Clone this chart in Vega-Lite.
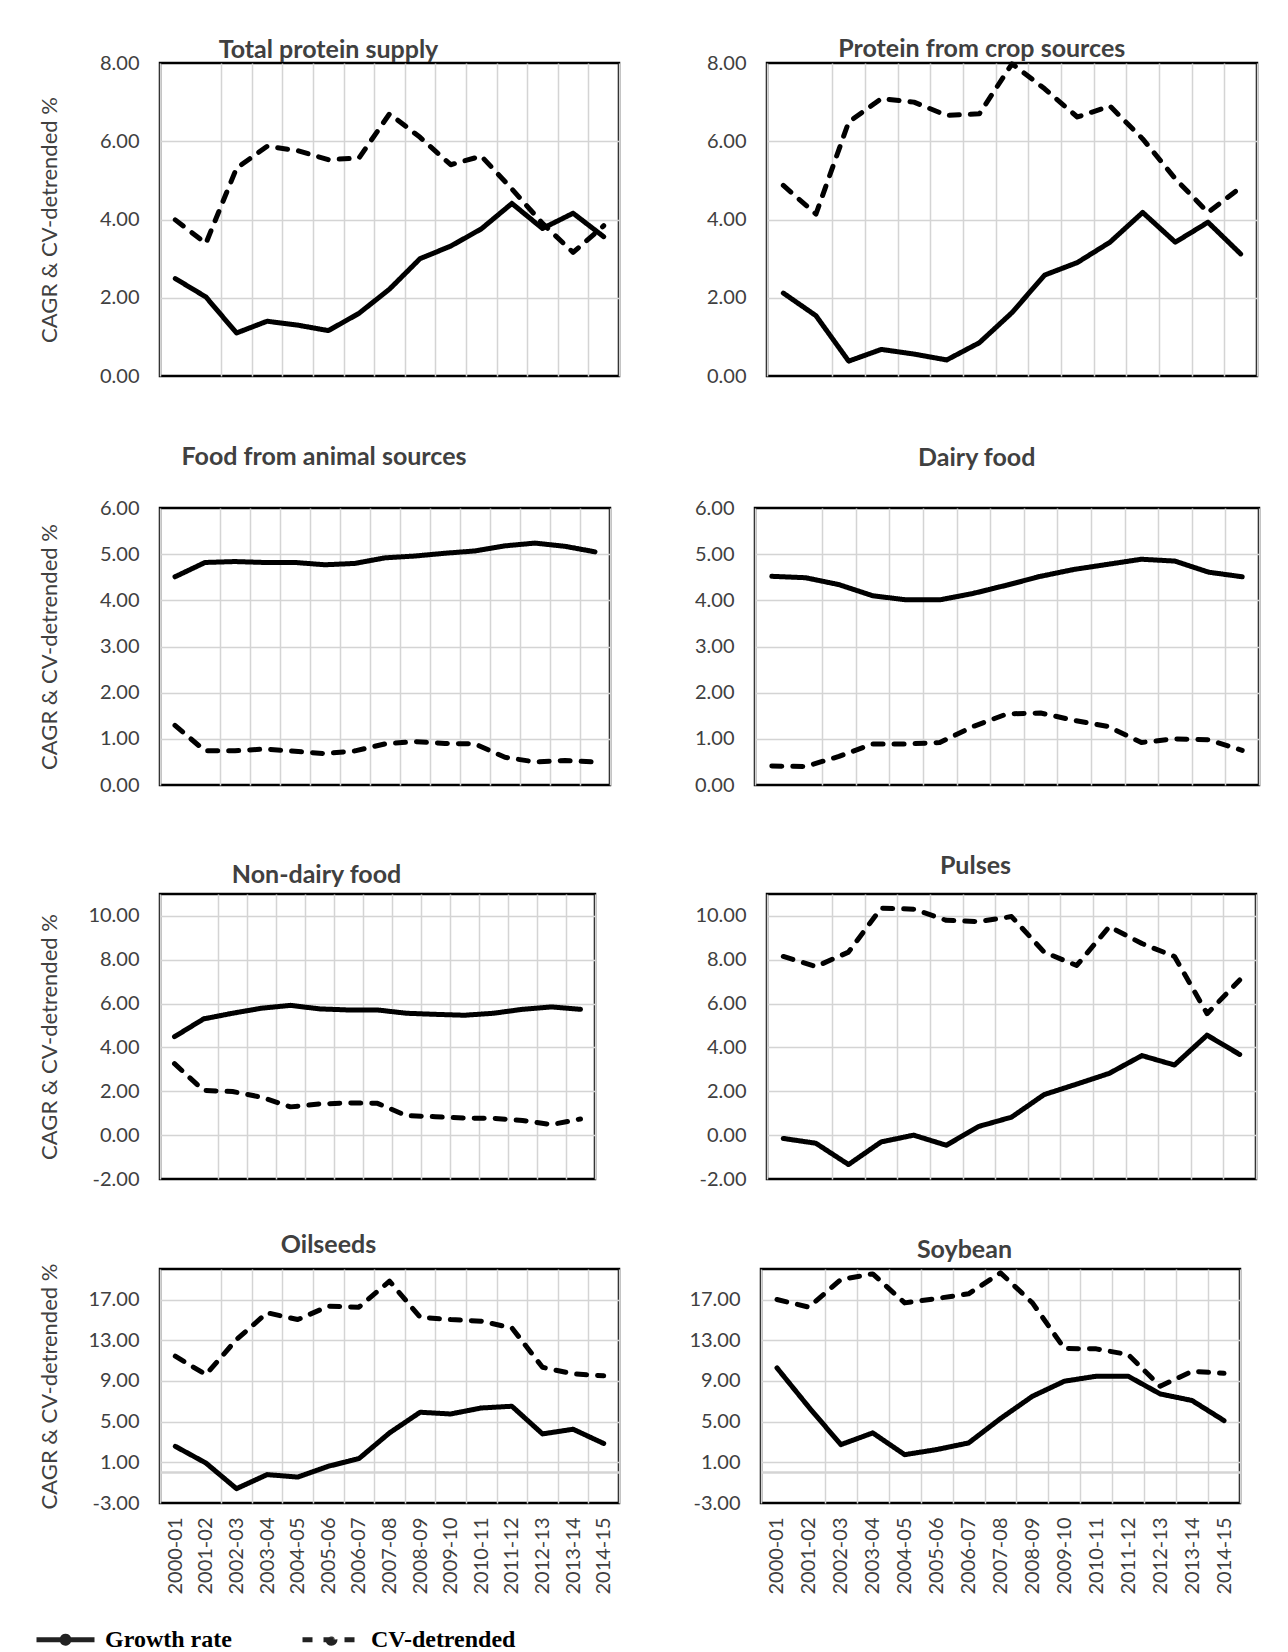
{
"$schema": "https://vega.github.io/schema/vega-lite/v6.json",
"background": "white",
"padding": {"left": 34, "top": 35, "right": 5, "bottom": 0},
"data": {"values": [
{"p":1,"t":"2000-01","g":2.49,"c":3.99},{"p":1,"t":"2001-02","g":2.02,"c":3.39},{"p":1,"t":"2002-03","g":1.10,"c":5.31},{"p":1,"t":"2003-04","g":1.40,"c":5.87},{"p":1,"t":"2004-05","g":1.30,"c":5.76},{"p":1,"t":"2005-06","g":1.16,"c":5.53},{"p":1,"t":"2006-07","g":1.60,"c":5.57},{"p":1,"t":"2007-08","g":2.22,"c":6.70},{"p":1,"t":"2008-09","g":3.00,"c":6.10},{"p":1,"t":"2009-10","g":3.32,"c":5.40},{"p":1,"t":"2010-11","g":3.76,"c":5.62},{"p":1,"t":"2011-12","g":4.41,"c":4.78},{"p":1,"t":"2012-13","g":3.77,"c":3.90},{"p":1,"t":"2013-14","g":4.16,"c":3.16},{"p":1,"t":"2014-15","g":3.56,"c":3.84},
{"p":2,"t":"2000-01","g":2.12,"c":4.87},{"p":2,"t":"2001-02","g":1.54,"c":4.14},{"p":2,"t":"2002-03","g":0.38,"c":6.49},{"p":2,"t":"2003-04","g":0.68,"c":7.09},{"p":2,"t":"2004-05","g":0.56,"c":7.00},{"p":2,"t":"2005-06","g":0.41,"c":6.66},{"p":2,"t":"2006-07","g":0.85,"c":6.70},{"p":2,"t":"2007-08","g":1.62,"c":7.98},{"p":2,"t":"2008-09","g":2.58,"c":7.34},{"p":2,"t":"2009-10","g":2.90,"c":6.62},{"p":2,"t":"2010-11","g":3.42,"c":6.90},{"p":2,"t":"2011-12","g":4.18,"c":6.06},{"p":2,"t":"2012-13","g":3.42,"c":5.04},{"p":2,"t":"2013-14","g":3.93,"c":4.18},{"p":2,"t":"2014-15","g":3.12,"c":4.82},
{"p":3,"t":"2000-01","g":4.51,"c":1.29},{"p":3,"t":"2001-02","g":4.82,"c":0.74},{"p":3,"t":"2002-03","g":4.84,"c":0.74},{"p":3,"t":"2003-04","g":4.82,"c":0.78},{"p":3,"t":"2004-05","g":4.82,"c":0.73},{"p":3,"t":"2005-06","g":4.77,"c":0.68},{"p":3,"t":"2006-07","g":4.80,"c":0.74},{"p":3,"t":"2007-08","g":4.92,"c":0.89},{"p":3,"t":"2008-09","g":4.96,"c":0.94},{"p":3,"t":"2009-10","g":5.02,"c":0.90},{"p":3,"t":"2010-11","g":5.07,"c":0.89},{"p":3,"t":"2011-12","g":5.18,"c":0.60},{"p":3,"t":"2012-13","g":5.24,"c":0.50},{"p":3,"t":"2013-14","g":5.17,"c":0.53},{"p":3,"t":"2014-15","g":5.05,"c":0.50},
{"p":4,"t":"2000-01","g":4.52,"c":0.41},{"p":4,"t":"2001-02","g":4.49,"c":0.40},{"p":4,"t":"2002-03","g":4.34,"c":0.62},{"p":4,"t":"2003-04","g":4.10,"c":0.89},{"p":4,"t":"2004-05","g":4.01,"c":0.89},{"p":4,"t":"2005-06","g":4.01,"c":0.92},{"p":4,"t":"2006-07","g":4.15,"c":1.27},{"p":4,"t":"2007-08","g":4.33,"c":1.54},{"p":4,"t":"2008-09","g":4.52,"c":1.56},{"p":4,"t":"2009-10","g":4.67,"c":1.40},{"p":4,"t":"2010-11","g":4.78,"c":1.27},{"p":4,"t":"2011-12","g":4.89,"c":0.92},{"p":4,"t":"2012-13","g":4.85,"c":1.00},{"p":4,"t":"2013-14","g":4.61,"c":0.98},{"p":4,"t":"2014-15","g":4.51,"c":0.75},
{"p":5,"t":"2000-01","g":4.49,"c":3.26},{"p":5,"t":"2001-02","g":5.30,"c":2.04},{"p":5,"t":"2002-03","g":5.56,"c":1.99},{"p":5,"t":"2003-04","g":5.79,"c":1.73},{"p":5,"t":"2004-05","g":5.92,"c":1.29},{"p":5,"t":"2005-06","g":5.76,"c":1.42},{"p":5,"t":"2006-07","g":5.71,"c":1.47},{"p":5,"t":"2007-08","g":5.71,"c":1.45},{"p":5,"t":"2008-09","g":5.56,"c":0.89},{"p":5,"t":"2009-10","g":5.51,"c":0.84},{"p":5,"t":"2010-11","g":5.47,"c":0.78},{"p":5,"t":"2011-12","g":5.56,"c":0.77},{"p":5,"t":"2012-13","g":5.74,"c":0.67},{"p":5,"t":"2013-14","g":5.85,"c":0.48},{"p":5,"t":"2014-15","g":5.74,"c":0.74},
{"p":6,"t":"2000-01","g":-0.15,"c":8.15},{"p":6,"t":"2001-02","g":-0.37,"c":7.69},{"p":6,"t":"2002-03","g":-1.34,"c":8.35},{"p":6,"t":"2003-04","g":-0.31,"c":10.35},{"p":6,"t":"2004-05","g":0.00,"c":10.31},{"p":6,"t":"2005-06","g":-0.46,"c":9.80},{"p":6,"t":"2006-07","g":0.40,"c":9.74},{"p":6,"t":"2007-08","g":0.82,"c":9.97},{"p":6,"t":"2008-09","g":1.85,"c":8.35},{"p":6,"t":"2009-10","g":2.33,"c":7.74},{"p":6,"t":"2010-11","g":2.82,"c":9.51},{"p":6,"t":"2011-12","g":3.63,"c":8.74},{"p":6,"t":"2012-13","g":3.20,"c":8.15},{"p":6,"t":"2013-14","g":4.56,"c":5.54},{"p":6,"t":"2014-15","g":3.68,"c":7.08},
{"p":7,"t":"2000-01","g":2.57,"c":11.43},{"p":7,"t":"2001-02","g":0.93,"c":9.62},{"p":7,"t":"2002-03","g":-1.59,"c":13.07},{"p":7,"t":"2003-04","g":-0.21,"c":15.70},{"p":7,"t":"2004-05","g":-0.45,"c":15.03},{"p":7,"t":"2005-06","g":0.61,"c":16.34},{"p":7,"t":"2006-07","g":1.36,"c":16.25},{"p":7,"t":"2007-08","g":3.89,"c":18.80},{"p":7,"t":"2008-09","g":5.92,"c":15.26},{"p":7,"t":"2009-10","g":5.75,"c":15.03},{"p":7,"t":"2010-11","g":6.34,"c":14.87},{"p":7,"t":"2011-12","g":6.51,"c":14.21},{"p":7,"t":"2012-13","g":3.79,"c":10.34},{"p":7,"t":"2013-14","g":4.25,"c":9.69},{"p":7,"t":"2014-15","g":2.85,"c":9.50},
{"p":8,"t":"2000-01","g":10.28,"c":17.00},{"p":8,"t":"2001-02","g":6.41,"c":16.25},{"p":8,"t":"2002-03","g":2.74,"c":18.97},{"p":8,"t":"2003-04","g":3.89,"c":19.52},{"p":8,"t":"2004-05","g":1.75,"c":16.67},{"p":8,"t":"2005-06","g":2.25,"c":17.10},{"p":8,"t":"2006-07","g":2.90,"c":17.56},{"p":8,"t":"2007-08","g":5.30,"c":19.62},{"p":8,"t":"2008-09","g":7.49,"c":16.67},{"p":8,"t":"2009-10","g":8.97,"c":12.18},{"p":8,"t":"2010-11","g":9.46,"c":12.15},{"p":8,"t":"2011-12","g":9.46,"c":11.59},{"p":8,"t":"2012-13","g":7.72,"c":8.48},{"p":8,"t":"2013-14","g":7.07,"c":9.95},{"p":8,"t":"2014-15","g":5.10,"c":9.75}
]},
"config": {
  "font": "Lato",
  "view": {"stroke": "black", "strokeWidth": 2.5},
  "axis": {"grid": true, "gridColor": "#d4d4d4", "gridWidth": 1.5, "ticks": false, "tickSize": 0, "domain": false, "labelFont": "Lato", "labelFontSize": 20, "labelColor": "#404040", "titleFont": "Lato", "titleFontSize": 22, "titleFontWeight": "normal", "titleColor": "#404040", "labelPadding": 21, "labelOverlap": false},
  "axisY": {"labelExpr": "(datum.value < 0 ? '-' : '') + format(abs(datum.value), '.2f')"},
  "title": {"font": "Lato", "fontSize": 25, "fontWeight": "bold", "color": "#404040", "anchor": "middle", "frame": "bounds", "baseline": "alphabetic"},
  "line": {"strokeWidth": 5, "color": "black", "strokeJoin": "round", "strokeCap": "round"}
},
"spacing": 40,
"vconcat": [
 {"spacing": 55, "vconcat": [
  {"hconcat": [
   {"width": 459, "height": 313, "title": {"text": "Total protein supply", "offset": -10},
    "transform": [{"filter": "datum.p == 1"}, {"fold": ["g", "c"], "as": ["series", "value"]}],
    "mark": "line",
    "encoding": {
     "x": {"field": "t", "type": "ordinal", "scale": {"type": "band", "paddingInner": 0, "paddingOuter": 0}, "axis": {"labels": false, "title": null, "tickBand": "extent", "gridOpacity": {"condition": {"test": "datum.value === '2000-01'", "value": 0}, "value": 1}}},
     "y": {"field": "value", "type": "quantitative", "scale": {"domain": [0, 8], "nice": false, "zero": false}, "axis": {"values": [0, 2, 4, 6, 8], "title": "CAGR & CV-detrended %", "titlePadding": 37, "minExtent": 62, "maxExtent": 62, "gridOpacity": {"condition": {"test": "datum.value === 0 || datum.value === 8", "value": 0}, "value": 1}}},
     "strokeDash": {"field": "series", "type": "nominal", "scale": {"domain": ["g", "c"], "range": [[1, 0], [10, 11]]},
      "legend": {"title": null, "orient": "none", "legendX": -126, "legendY": 1545, "direction": "horizontal", "padding": 0,
       "symbolType": "M-1,0H1M0.12,0A0.12,0.12,0,1,1,-0.12,0A0.12,0.12,0,1,1,0.12,0", "symbolSize": 3364, "symbolStrokeWidth": 5, "symbolStrokeColor": "#222222", "symbolFillColor": "#707070",
       "labelFont": "Liberation Serif", "labelFontWeight": "bold", "labelFontSize": 24, "labelColor": "black", "labelOffset": 8, "columnPadding": 68,
       "labelExpr": "datum.label === 'g' ? 'Growth rate' : 'CV-detrended'",
       "encode": {"symbols": {"update": {
         "shape": {"signal": "datum.value === 'c' ? 'M-1,0H-0.42M0.42,0H1M0.12,0A0.12,0.12,0,1,1,-0.12,0A0.12,0.12,0,1,1,0.12,0' : 'M-1,0H1M0.12,0A0.12,0.12,0,1,1,-0.12,0A0.12,0.12,0,1,1,0.12,0'"},
         "strokeDash": {"value": [1, 0]},
         "fill": {"value": "#707070"}, "strokeCap": {"value": "round"}}}}}}
    }},
   {"width": 490, "height": 313, "title": {"text": "Protein from crop sources", "offset": -9},
    "transform": [{"filter": "datum.p == 2"}, {"fold": ["g", "c"], "as": ["series", "value"]}],
    "mark": "line",
    "encoding": {
     "x": {"field": "t", "type": "ordinal", "scale": {"type": "band", "paddingInner": 0, "paddingOuter": 0}, "axis": {"labels": false, "title": null, "tickBand": "extent", "gridOpacity": {"condition": {"test": "datum.value === '2000-01'", "value": 0}, "value": 1}}},
     "y": {"field": "value", "type": "quantitative", "scale": {"domain": [0, 8], "nice": false, "zero": false}, "axis": {"values": [0, 2, 4, 6, 8], "title": null, "gridOpacity": {"condition": {"test": "datum.value === 0 || datum.value === 8", "value": 0}, "value": 1}}},
     "strokeDash": {"field": "series", "type": "nominal", "scale": {"domain": ["g", "c"], "range": [[1, 0], [10, 11]]}}
    }}
  ], "spacing": 84},
  {"hconcat": [
   {"width": 450, "height": 277, "title": {"text": "Food from animal sources", "offset": 28},
    "transform": [{"filter": "datum.p == 3"}, {"fold": ["g", "c"], "as": ["series", "value"]}],
    "mark": "line",
    "encoding": {
     "x": {"field": "t", "type": "ordinal", "scale": {"type": "band", "paddingInner": 0, "paddingOuter": 0}, "axis": {"labels": false, "title": null, "tickBand": "extent", "gridOpacity": {"condition": {"test": "datum.value === '2000-01'", "value": 0}, "value": 1}}},
     "y": {"field": "value", "type": "quantitative", "scale": {"domain": [0, 6], "nice": false, "zero": false}, "axis": {"values": [0, 1, 2, 3, 4, 5, 6], "title": "CAGR & CV-detrended %", "titlePadding": 37, "minExtent": 62, "maxExtent": 62, "gridOpacity": {"condition": {"test": "datum.value === 0 || datum.value === 6", "value": 0}, "value": 1}}},
     "strokeDash": {"field": "series", "type": "nominal", "scale": {"domain": ["g", "c"], "range": [[1, 0], [10, 11]]}}
    }},
   {"width": 504, "height": 277, "title": {"text": "Dairy food", "offset": 27},
    "transform": [{"filter": "datum.p == 4"}, {"fold": ["g", "c"], "as": ["series", "value"]}],
    "mark": "line",
    "encoding": {
     "x": {"field": "t", "type": "ordinal", "scale": {"type": "band", "paddingInner": 0, "paddingOuter": 0}, "axis": {"labels": false, "title": null, "tickBand": "extent", "gridOpacity": {"condition": {"test": "datum.value === '2000-01'", "value": 0}, "value": 1}}},
     "y": {"field": "value", "type": "quantitative", "scale": {"domain": [0, 6], "nice": false, "zero": false}, "axis": {"values": [0, 1, 2, 3, 4, 5, 6], "title": null, "gridOpacity": {"condition": {"test": "datum.value === 0 || datum.value === 6", "value": 0}, "value": 1}}},
     "strokeDash": {"field": "series", "type": "nominal", "scale": {"domain": ["g", "c"], "range": [[1, 0], [10, 11]]}}
    }}
  ], "spacing": 81},
  {"hconcat": [
   {"width": 435, "height": 285, "title": {"text": "Non-dairy food", "offset": 6},
    "transform": [{"filter": "datum.p == 5"}, {"fold": ["g", "c"], "as": ["series", "value"]}],
    "mark": "line",
    "encoding": {
     "x": {"field": "t", "type": "ordinal", "scale": {"type": "band", "paddingInner": 0, "paddingOuter": 0}, "axis": {"labels": false, "title": null, "tickBand": "extent", "gridOpacity": {"condition": {"test": "datum.value === '2000-01'", "value": 0}, "value": 1}}},
     "y": {"field": "value", "type": "quantitative", "scale": {"domain": [-2, 11], "nice": false, "zero": false}, "axis": {"values": [-2, 0, 2, 4, 6, 8, 10], "title": "CAGR & CV-detrended %", "titlePadding": 37, "minExtent": 62, "maxExtent": 62, "gridOpacity": {"condition": {"test": "datum.value === -2", "value": 0}, "value": 1}}},
     "strokeDash": {"field": "series", "type": "nominal", "scale": {"domain": ["g", "c"], "range": [[1, 0], [10, 11]]}}
    }},
   {"width": 489, "height": 285, "title": {"text": "Pulses", "offset": 15},
    "transform": [{"filter": "datum.p == 6"}, {"fold": ["g", "c"], "as": ["series", "value"]}],
    "mark": "line",
    "encoding": {
     "x": {"field": "t", "type": "ordinal", "scale": {"type": "band", "paddingInner": 0, "paddingOuter": 0}, "axis": {"labels": false, "title": null, "tickBand": "extent", "gridOpacity": {"condition": {"test": "datum.value === '2000-01'", "value": 0}, "value": 1}}},
     "y": {"field": "value", "type": "quantitative", "scale": {"domain": [-2, 11], "nice": false, "zero": false}, "axis": {"values": [-2, 0, 2, 4, 6, 8, 10], "title": null, "gridOpacity": {"condition": {"test": "datum.value === -2", "value": 0}, "value": 1}}},
     "strokeDash": {"field": "series", "type": "nominal", "scale": {"domain": ["g", "c"], "range": [[1, 0], [10, 11]]}}
    }}
  ], "spacing": 96}
 ]},
 {"hconcat": [
   {"width": 459, "height": 234, "title": {"text": "Oilseeds", "offset": 5},
    "transform": [{"filter": "datum.p == 7"}, {"fold": ["g", "c"], "as": ["series", "value"]}],
    "mark": "line",
    "encoding": {
     "x": {"field": "t", "type": "ordinal", "scale": {"type": "band", "paddingInner": 0, "paddingOuter": 0}, "axis": {"title": null, "tickBand": "extent", "labelAngle": -90, "labelPadding": 14, "gridOpacity": {"condition": {"test": "datum.value === '2000-01'", "value": 0}, "value": 1}}},
     "y": {"field": "value", "type": "quantitative", "scale": {"domain": [-3, 20], "nice": false, "zero": false}, "axis": {"values": [-3, 0, 1, 5, 9, 13, 17], "title": "CAGR & CV-detrended %", "titlePadding": 37, "minExtent": 62, "maxExtent": 62, "labelExpr": "datum.value === 0 ? '' : (datum.value < 0 ? '-' : '') + format(abs(datum.value), '.2f')", "gridWidth": {"condition": {"test": "datum.value === 0", "value": 2.5}, "value": 1.5}, "gridOpacity": {"condition": {"test": "datum.value === -3", "value": 0}, "value": 1}}},
     "strokeDash": {"field": "series", "type": "nominal", "scale": {"domain": ["g", "c"], "range": [[1, 0], [10, 11]]}}
    }},
   {"width": 479, "height": 234, "title": {"text": "Soybean", "offset": 6},
    "transform": [{"filter": "datum.p == 8"}, {"fold": ["g", "c"], "as": ["series", "value"]}],
    "mark": "line",
    "encoding": {
     "x": {"field": "t", "type": "ordinal", "scale": {"type": "band", "paddingInner": 0, "paddingOuter": 0}, "axis": {"title": null, "tickBand": "extent", "labelAngle": -90, "labelPadding": 14, "gridOpacity": {"condition": {"test": "datum.value === '2000-01'", "value": 0}, "value": 1}}},
     "y": {"field": "value", "type": "quantitative", "scale": {"domain": [-3, 20], "nice": false, "zero": false}, "axis": {"values": [-3, 0, 1, 5, 9, 13, 17], "title": null, "labelExpr": "datum.value === 0 ? '' : (datum.value < 0 ? '-' : '') + format(abs(datum.value), '.2f')", "gridWidth": {"condition": {"test": "datum.value === 0", "value": 2.5}, "value": 1.5}, "gridOpacity": {"condition": {"test": "datum.value === -3", "value": 0}, "value": 1}}},
     "strokeDash": {"field": "series", "type": "nominal", "scale": {"domain": ["g", "c"], "range": [[1, 0], [10, 11]]}}
    }}
 ], "spacing": 66}
]
}
